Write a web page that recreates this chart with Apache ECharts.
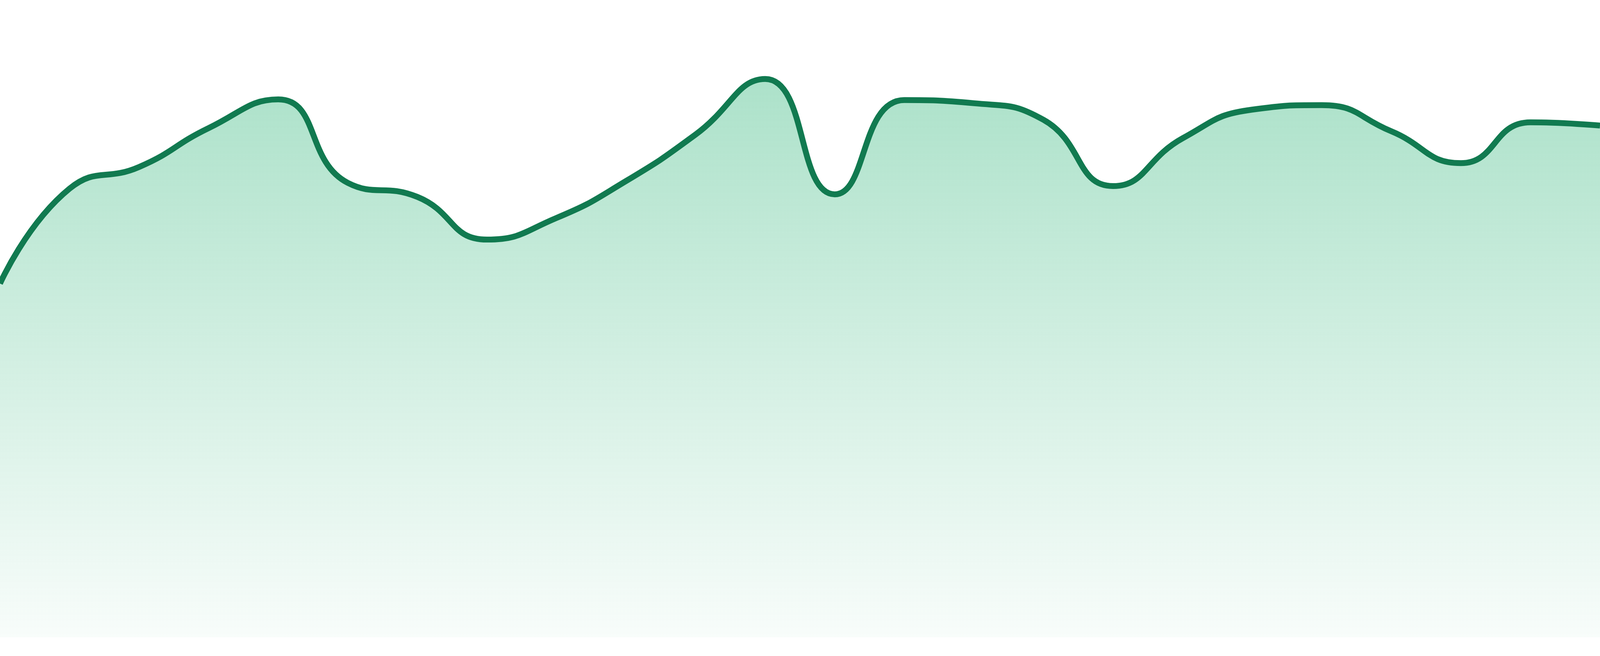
<!DOCTYPE html>
<html>
<head>
<meta charset="utf-8">
<script src="https://cdn.jsdelivr.net/npm/echarts@6/dist/echarts.min.js"></script>
<style>
html,body{margin:0;padding:0;background:#ffffff;width:100%;height:100%;overflow:hidden;}
#chart{width:100%;height:100%;}
</style>
</head>
<body>
<div id="chart"></div>
<script>
var categories = ['1','2','3','4','5','6','7','8','9','10','11','12','13','14','15','16','17','18','19','20','21','22','23','24'];
var values = [55.5, 70.4, 73.8, 79.9, 84.4, 71.3, 69.1, 62.4, 65.8, 71.6, 78.9, 87.6, 69.5, 84.3, 83.8, 81.2, 70.8, 78.3, 82.8, 83.5, 79.4, 74.4, 80.8, 80.3];

var el = document.getElementById('chart');
var chart = echarts.init(el);
var k = el.clientHeight / 1680;
chart.setOption({
  animation: false,
  grid: {left: 0, right: 0, top: 0, bottom: '2.86%'},
  xAxis: {
    type: 'category',
    data: categories,
    boundaryGap: false,
    show: false
  },
  yAxis: {
    type: 'value',
    min: 0,
    max: 100,
    show: false
  },
  series: [{
    type: 'line',
    data: values,
    smooth: true,
    symbol: 'none',
    lineStyle: {color: '#117a50', width: 15 * k},
    areaStyle: {
      opacity: 1,
      color: new echarts.graphic.LinearGradient(0, 0, 0, 1, [
        {offset: 0, color: 'rgba(30,175,110,0.37)'},
        {offset: 1, color: 'rgba(30,175,110,0.03)'}
      ])
    }
  }]
});
</script>
</body>
</html>
